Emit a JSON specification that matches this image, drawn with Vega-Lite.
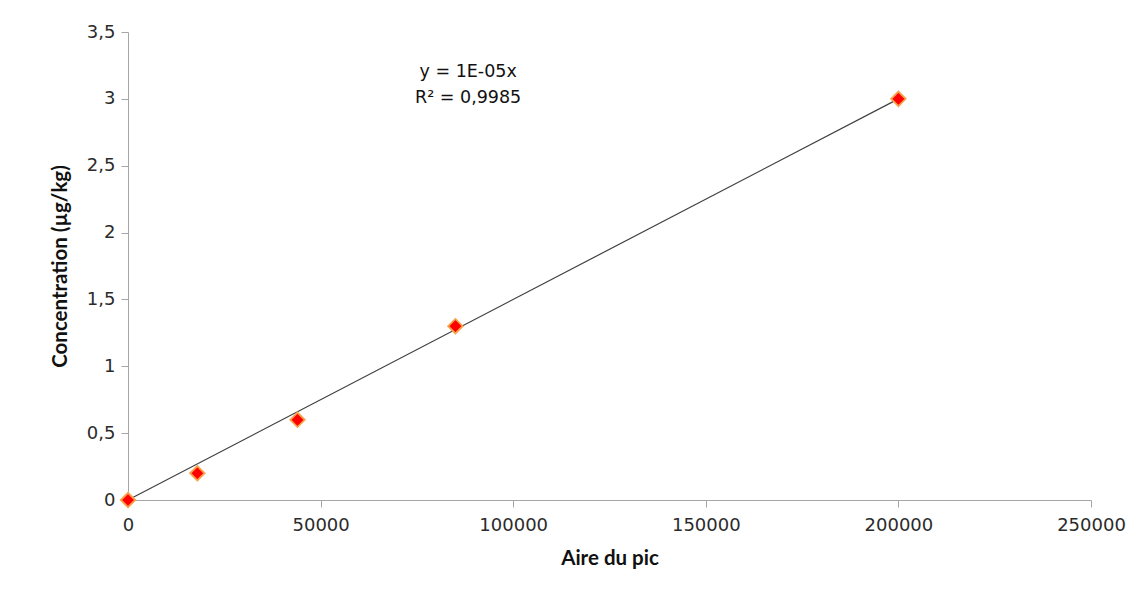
{
  "$schema": "https://vega.github.io/schema/vega-lite/v6.json",
  "width": 963,
  "height": 468,
  "autosize": {"type": "none"},
  "padding": {"left": 128, "top": 32, "right": 56, "bottom": 96},
  "background": "white",
  "config": {
    "view": {"stroke": null},
    "font": "DejaVu Sans",
    "locale": {"number": {"decimal": ",", "thousands": "", "grouping": [3], "currency": ["", " €"]}},
    "axis": {"grid": false, "domainColor": "#a6a6a6", "tickColor": "#a6a6a6", "labelColor": "#2b2b2b", "labelFontSize": 18, "titleFontSize": 20.5, "titleFontWeight": "bold", "titleColor": "#111111", "labelFont": "DejaVu Sans", "titleFont": "Lato", "tickSize": 7, "labelFlush": false}
  },
  "datasets": {
    "points": [
      {"aire": 0, "conc": 0},
      {"aire": 18000, "conc": 0.2},
      {"aire": 44000, "conc": 0.6},
      {"aire": 85000, "conc": 1.3},
      {"aire": 200000, "conc": 3.0}
    ],
    "trend": [
      {"aire": 0, "conc": 0},
      {"aire": 200000, "conc": 3.0}
    ],
    "notes": [
      {"aire": 88300, "conc": 3.2, "label": "y = 1E-05x"},
      {"aire": 88300, "conc": 3.006, "label": "R² = 0,9985"}
    ]
  },
  "layer": [
    {
      "data": {"name": "trend"},
      "mark": {"type": "line", "color": "#404040", "strokeWidth": 1.2},
      "encoding": {
        "x": {"field": "aire", "type": "quantitative", "scale": {"domain": [0, 250000], "nice": false}, "axis": {"title": "Aire du pic", "values": [0, 50000, 100000, 150000, 200000, 250000], "format": "d", "labelPadding": 9, "titlePadding": 14}},
        "y": {"field": "conc", "type": "quantitative", "scale": {"domain": [0, 3.5], "nice": false}, "axis": {"title": "Concentration (µg/kg)", "values": [0, 0.5, 1, 1.5, 2, 2.5, 3, 3.5], "format": "~g", "labelPadding": 6, "titlePadding": 16}}
      }
    },
    {
      "data": {"name": "points"},
      "mark": {"type": "point", "shape": "diamond", "filled": true, "fill": "#ff0000", "stroke": "#f9a24a", "strokeWidth": 1.8, "size": 210, "opacity": 1},
      "encoding": {
        "x": {"field": "aire", "type": "quantitative"},
        "y": {"field": "conc", "type": "quantitative"}
      }
    },
    {
      "data": {"name": "notes"},
      "mark": {"type": "text", "fontSize": 17.5, "color": "#111111", "align": "center", "baseline": "middle", "font": "DejaVu Sans"},
      "encoding": {
        "x": {"field": "aire", "type": "quantitative"},
        "y": {"field": "conc", "type": "quantitative"},
        "text": {"field": "label", "type": "nominal"}
      }
    }
  ]
}
